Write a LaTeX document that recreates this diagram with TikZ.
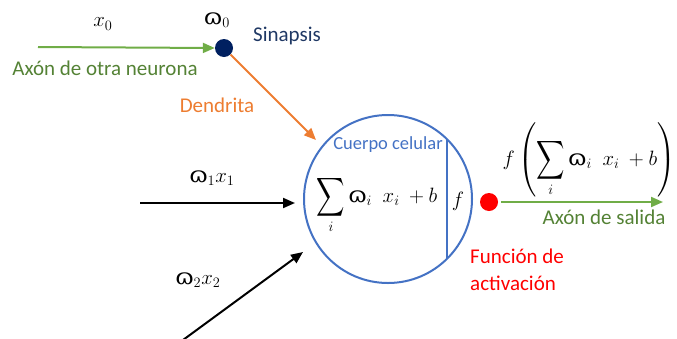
\documentclass[tikz,border=0pt]{standalone}
\usepackage{amsmath}
\usepackage{graphicx}
\usepackage{fontspec}
\setmainfont{Carlito}
\newfontfamily\omgfont{DejaVu Serif}
\usetikzlibrary{arrows.meta}
\definecolor{lgreen}{RGB}{112,173,71}
\definecolor{dgreen}{RGB}{84,130,53}
\definecolor{navy}{RGB}{0,32,96}
\definecolor{navytext}{RGB}{31,56,100}
\definecolor{orng}{RGB}{237,125,49}
\definecolor{cblue}{RGB}{68,114,196}
\definecolor{rred}{RGB}{255,0,0}
\newcommand{\omg}{\mbox{\omgfont ɷ}}
\newcommand{\bigsum}{\mathop{\vcenter{\hbox{\fontsize{20}{20}\selectfont\scalebox{0.95}[1.3]{$\displaystyle\sum$}}}}\limits}
\begin{document}
\begin{tikzpicture}[x=1pt,y=-1pt,
  lbl/.style={inner sep=0pt,font=\fontsize{21}{25}\selectfont},
  mth/.style={inner sep=0pt,font=\fontsize{22}{26}\selectfont},
  arr/.style={line width=2pt,-{Triangle[length=12pt,width=10pt]}},
  dot/.style={circle,inner sep=0pt,minimum size=18pt}]
\useasboundingbox (0,0) rectangle (677,338);
% input axon
\coordinate (a0) at (38,47);
\node[dot,fill=navy] (syn) at (224,48) {};
\draw[arr,lgreen] (a0) -- (syn.west);
\node[mth] (x0) at (103,24) {$x_0$};
\node[mth] (w0) at (217,20) {$\omg_0$};
\node[lbl,text=navytext] (sin) at (287,36) {Sinapsis};
\node[lbl,text=dgreen] (axo) at (105,68) {Axón de otra neurona};
\node[lbl,text=orng] (den) at (217,105) {Dendrita};
% cell body
\node[circle,draw=cblue,line width=2pt,minimum size=168pt,inner sep=0pt] (body) at (388,199) {};
\draw[cblue,line width=2pt] (447,139.5) -- (447,258.5);
\node[inner sep=0pt,text=cblue,font=\fontsize{18.5}{22}\selectfont] (cc) at (388,145) {Cuerpo celular};
\node[mth] (sum) at (377,205) {$\bigsum_i \omg_i\;\ x_i\ + b$};
\node[mth] (fbox) at (458,201) {$f$};
% dendrite
\draw[orng,line width=2pt,-{Triangle[length=12pt,width=10pt]}] (syn) -- (316,140);
% inputs
\coordinate (i1) at (140,203);
\coordinate (t1) at (295,203);
\draw[arr,black] (i1) -- (t1);
\node[mth] (w1x1) at (212,178) {$\omg_1x_1$};
\coordinate (i2) at (183,340);
\coordinate (t2) at (303,252);
\draw[arr,black] (i2) -- (t2);
\node[mth] (w2x2) at (198,280) {$\omg_2x_2$};
% output
\node[dot,fill=rred] (act) at (489,202) {};
\coordinate (o) at (663,202);
\draw[arr,lgreen] (act.east) ++(3,0) -- (o);
\node[mth] (fout) at (589,160) {$f\left(\bigsum_i \omg_i\;\ x_i\ + b\right)$};
\node[lbl,text=dgreen] (axs) at (604,217) {Axón de salida};
\node[lbl,text=rred,anchor=west,align=left] (fa) at (470,270) {Función de\\[2pt]activación};
\end{tikzpicture}
\end{document}
